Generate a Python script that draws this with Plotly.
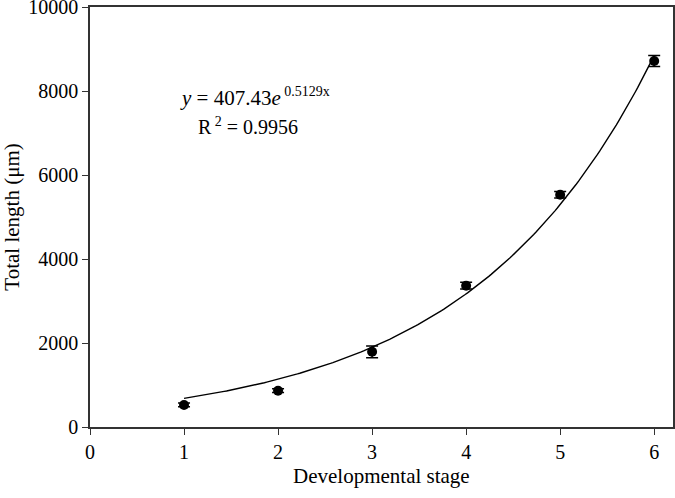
import numpy as np
import plotly.graph_objects as go

stages = [1, 2, 3, 4, 5, 6]
total_length = [525, 865, 1790, 3365, 5530, 8715]
sem = [45, 45, 140, 80, 80, 130]
fit_a = 407.43
fit_b = 0.5129
x_ticks = [0, 1, 2, 3, 4, 5, 6]
y_ticks = [0, 2000, 4000, 6000, 8000, 10000]
y_tick_text = ["0", "2000", "4000", "6000", "8000", "10000"]

xf = np.linspace(1, 6, 200)
yf = fit_a * np.exp(fit_b * xf)

fig = go.Figure()
fig.add_trace(go.Scatter(x=xf, y=yf, mode="lines",
                         line=dict(color="black", width=1.4), hoverinfo="skip"))
fig.add_trace(go.Scatter(x=stages, y=total_length, mode="markers",
                         marker=dict(color="black", size=10),
                         error_y=dict(type="data", array=sem, color="black",
                                      thickness=1.5, width=6)))

font = "Liberation Serif, Times New Roman, serif"
fig.update_layout(
    width=675, height=498,
    margin=dict(l=90, r=2, t=7, b=71),
    paper_bgcolor="white", plot_bgcolor="white",
    showlegend=False,
    font=dict(family=font, size=20, color="black"),
    xaxis=dict(range=[0, 6.2], tickvals=x_ticks, ticks="outside", ticklen=6,
               tickcolor="#333", showline=True, linecolor="#333", linewidth=1.5,
               mirror=True, showgrid=False, zeroline=False, automargin=False,
               tickfont=dict(size=20), ticklabeloverflow="allow"),
    yaxis=dict(range=[0, 10000], tickvals=y_ticks, ticktext=y_tick_text,
               ticks="outside", ticklen=6,
               tickcolor="#333", showline=True, linecolor="#333", linewidth=1.5,
               mirror=True, showgrid=False, zeroline=False, automargin=False,
               tickfont=dict(size=20), ticklabeloverflow="allow",
               title=dict(text="Total length (μm)", font=dict(size=21), standoff=13)),
    annotations=[
        dict(x=0.5, y=-0.117, xref="paper", yref="paper", xanchor="center",
             yanchor="middle", showarrow=False, text="Developmental stage",
             font=dict(size=21)),
        dict(x=0.94, y=7860, xref="x", yref="y", xanchor="left", yanchor="middle",
             showarrow=False,
             text="<i>y</i> = 407.43<i>e</i><sup><span style='font-size:14px'> 0.5129x</span></sup>",
             font=dict(size=21)),
        dict(x=1.13, y=7170, xref="x", yref="y", xanchor="left", yanchor="middle",
             showarrow=False,
             text="R<sup><span style='font-size:14px'> 2</span></sup> = 0.9956",
             font=dict(size=20)),
    ],
)
fig.write_html("out.html", config={"displayModeBar": False},
               post_script="document.body.style.margin='0';")
